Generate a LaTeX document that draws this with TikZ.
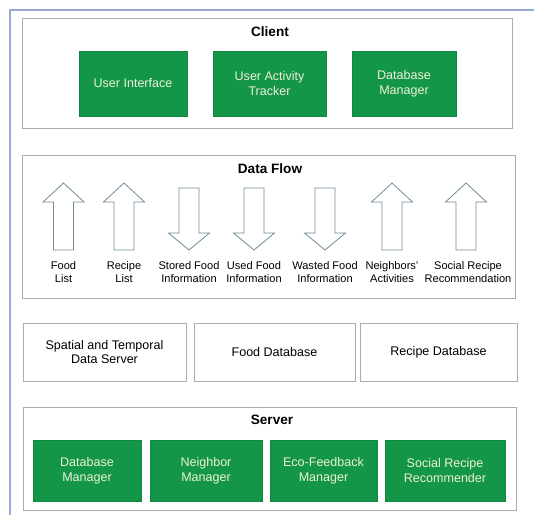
\documentclass[tikz,border=0pt]{standalone}
\usepackage{fontspec}
\setmainfont{Liberation Sans}
\usetikzlibrary{positioning}

\definecolor{modgreen}{RGB}{20,150,72}
\definecolor{modtext}{RGB}{238,240,216}
\definecolor{framebl}{RGB}{150,172,212}
\definecolor{arrowcol}{RGB}{112,140,152}

\begin{document}
\begin{tikzpicture}[
    x=0.75pt,
    y=-0.75pt,
    panel/.style={
        draw=gray!65,
        line width=0.6pt,
        rectangle
    },
    module/.style={
        fill=modgreen,
        draw=modgreen!90!black,
        text=modtext,
        align=center,
        font=\fontsize{9.4}{11.5}\selectfont
    },
    store/.style={
        draw=gray!65,
        line width=0.6pt,
        align=center,
        font=\fontsize{9.4}{10.5}\selectfont
    },
    title/.style={font=\fontsize{10.2}{12}\selectfont\bfseries},
    flowlabel/.style={align=center, font=\fontsize{8.3}{9.8}\selectfont},
    flowarrow/.style={draw=arrowcol, line width=0.6pt, fill=white}
]
\useasboundingbox (0,0) rectangle (534,515);
\draw[framebl, line width=0.8pt] (10,515) |- (534,10);

% client
\node[panel, minimum width=368pt, minimum height=83pt] (client) at (267.5,73.5) {};
\node[title] (clienttitle) at (270,32) {Client};
\node[module, minimum width=81pt, minimum height=48.75pt] (ui) at (133,83.5) {User Interface};
\node[module, minimum width=84.75pt, minimum height=48.75pt] (tracker) at (269.5,83.5) {User Activity\\Tracker};
\node[module, minimum width=78pt, minimum height=48.75pt] (cdbm) at (404,83.5) {Database\\Manager};

% data flow
\node[panel, minimum width=369.75pt, minimum height=107.25pt] (flow) at (268.5,226.5) {};
\node[title] (flowtitle) at (270,169) {Data Flow};
\foreach \c/\t/\b/\h in {63.5/250/202/183, 124/250/202/183, 189/188/233/250,
    254/188/233/250, 325/188/233/250, 392/250/202/183, 466/250/202/183}
  \draw[flowarrow] (\c-10,\t) -- (\c-10,\b) -- (\c-20.5,\b) -- (\c,\h)
    -- (\c+20.5,\b) -- (\c+10,\b) -- (\c+10,\t) -- cycle;
\node[flowlabel] (foodlist) at (63.5,272.5) {Food\\List};
\node[flowlabel] (recipelist) at (124,272.5) {Recipe\\List};
\node[flowlabel] (stored) at (189,272.5) {Stored Food\\Information};
\node[flowlabel] (used) at (254,272.5) {Used Food\\Information};
\node[flowlabel] (wasted) at (325,272.5) {Wasted Food\\Information};
\node[flowlabel] (neighbors) at (392,272.5) {Neighbors'\\Activities};
\node[flowlabel] (social) at (468,272.5) {Social Recipe\\Recommendation};

% data stores
\node[store, minimum width=122.25pt, minimum height=43.5pt] (spatial) at (104.5,352) {Spatial and Temporal\\Data Server};
\node[store, minimum width=120.75pt, minimum height=43.5pt] (fooddb) at (274.5,352) {Food Database};
\node[store, minimum width=117.75pt, minimum height=43.5pt] (recipedb) at (438.5,352) {Recipe Database};

% server
\node[panel, minimum width=369.75pt, minimum height=77.25pt] (server) at (269.5,458.5) {};
\node[title] (servertitle) at (272,420) {Server};
\node[module, minimum width=81pt, minimum height=45.75pt] (sdbm) at (87,470.5) {Database\\Manager};
\node[module, minimum width=84pt, minimum height=45.75pt] (nbm) at (206,470.5) {Neighbor\\Manager};
\node[module, minimum width=80.25pt, minimum height=45.75pt] (eco) at (323.5,470.5) {Eco-Feedback\\Manager};
\node[module, minimum width=90pt, minimum height=45.75pt] (recommender) at (445,470.5) {Social Recipe\\Recommender};
\end{tikzpicture}
\end{document}
